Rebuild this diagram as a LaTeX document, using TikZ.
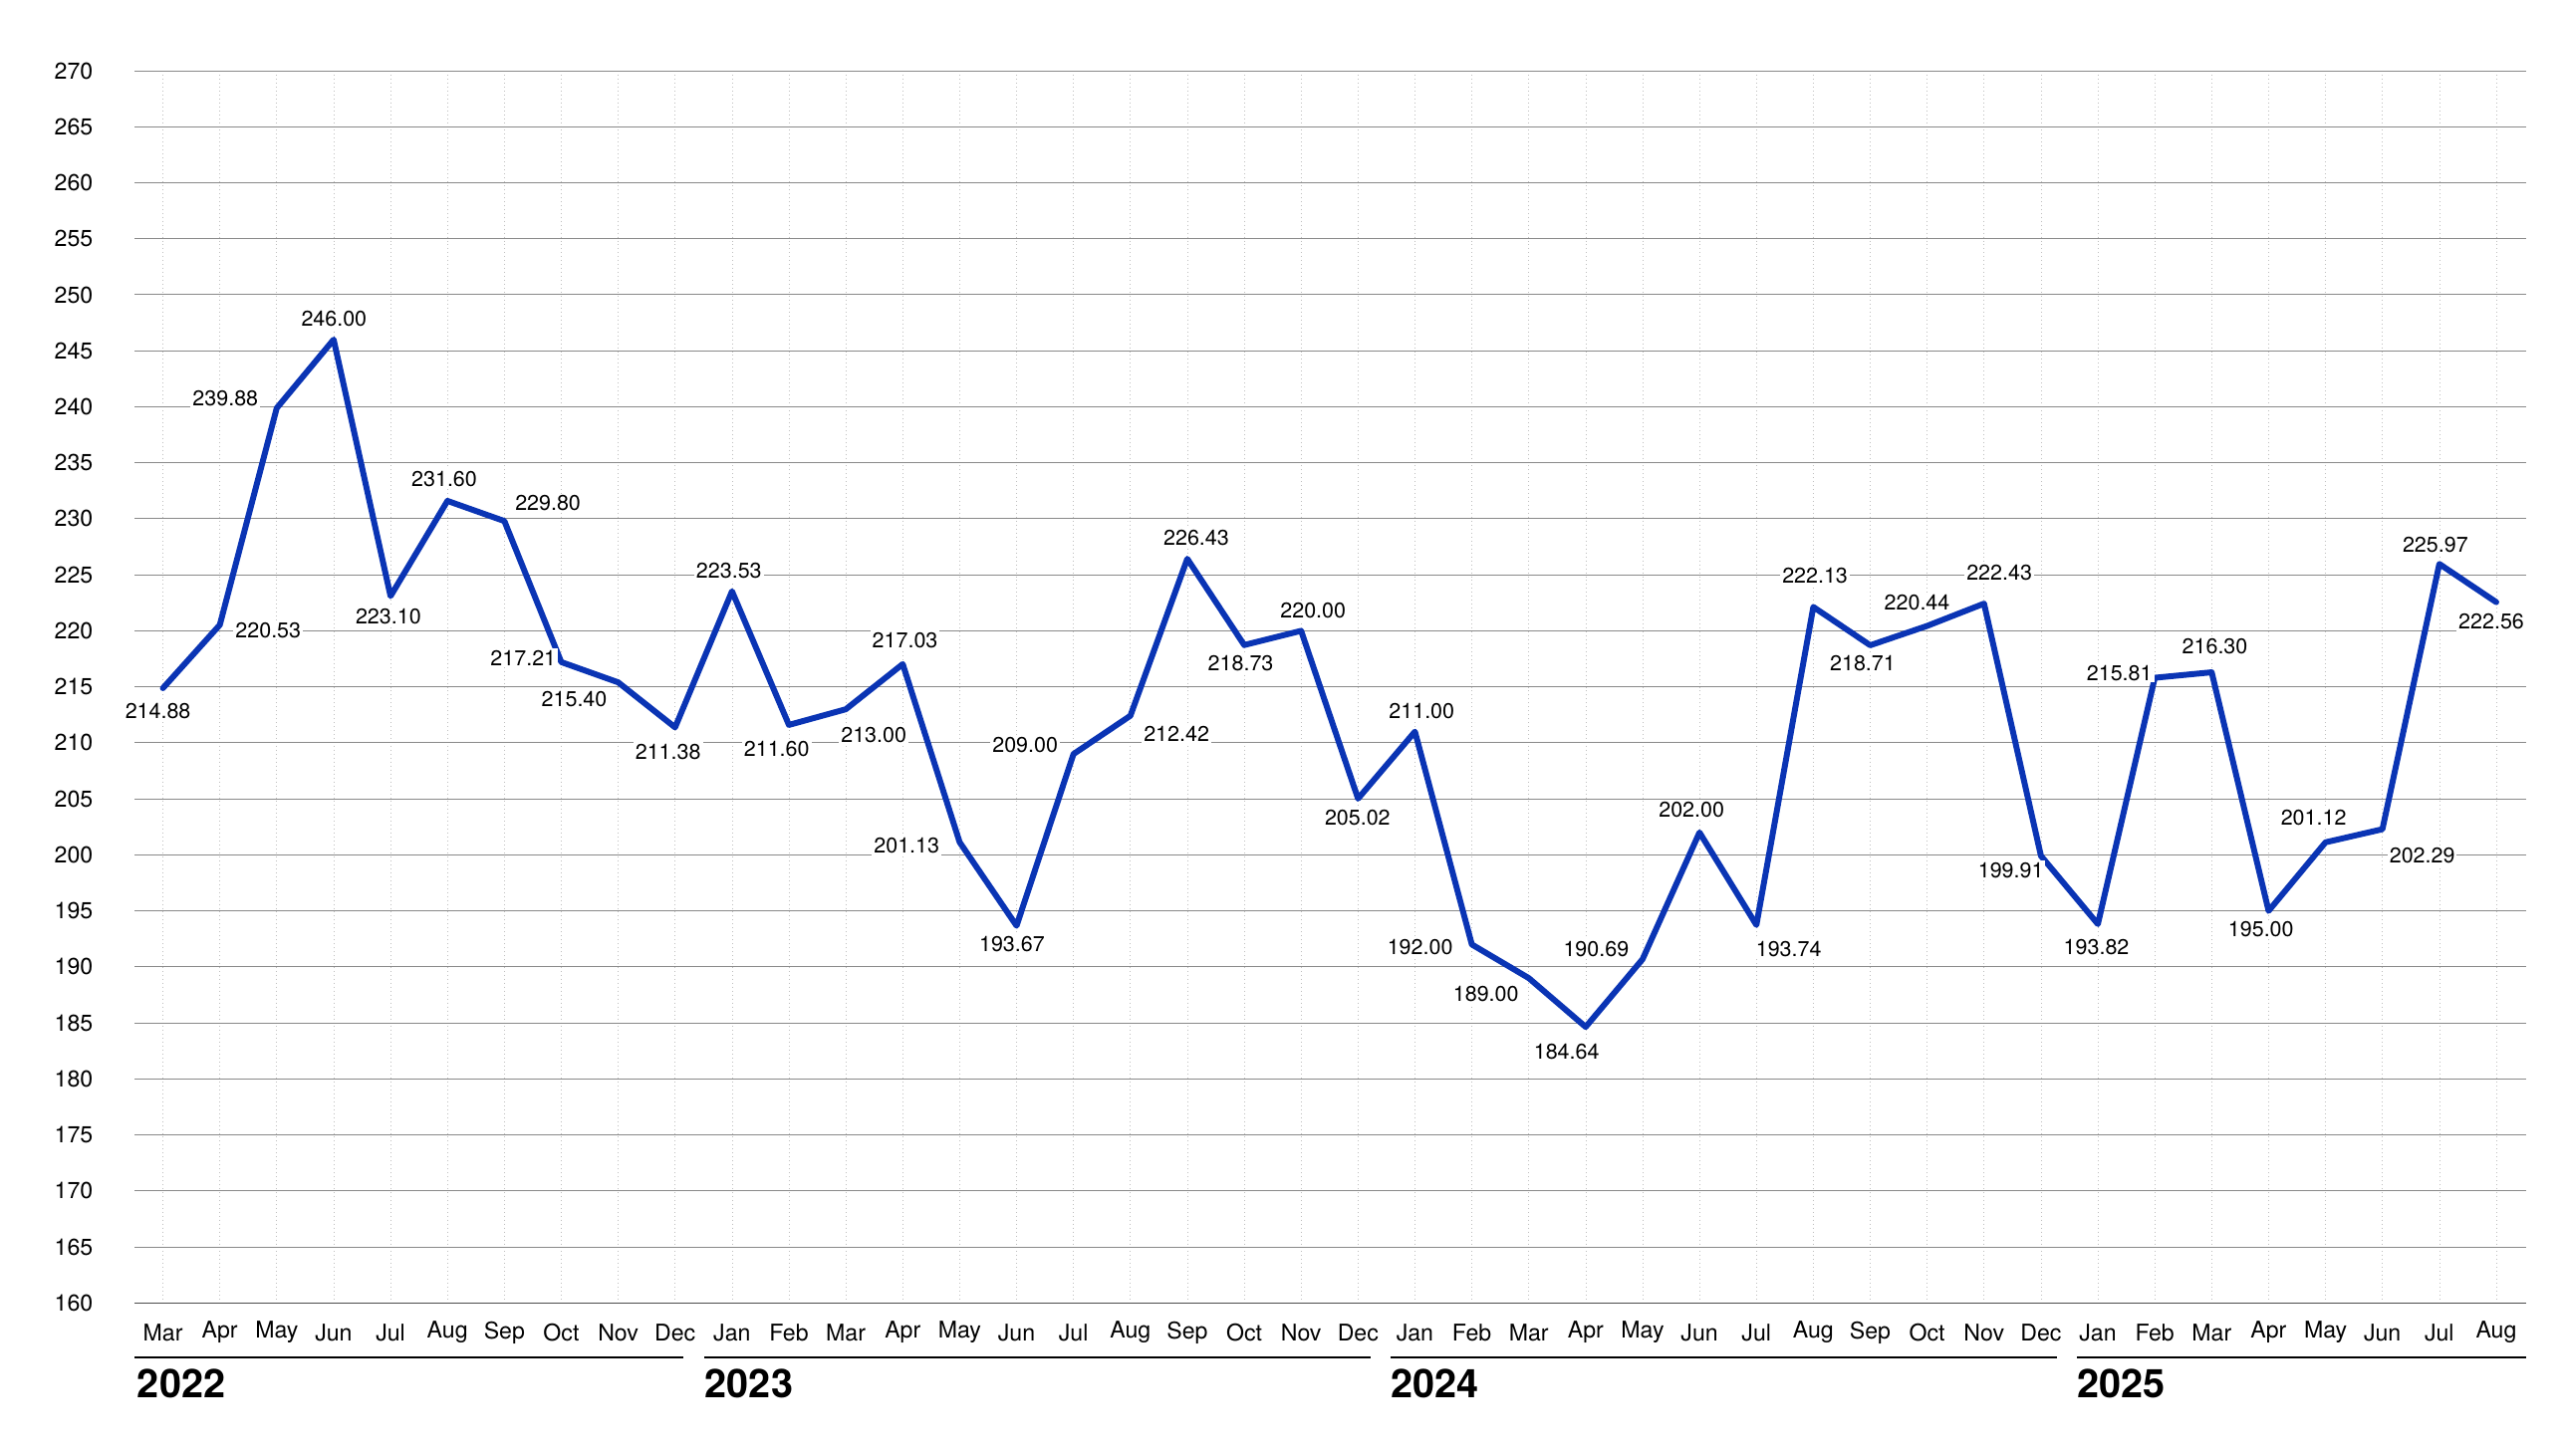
\documentclass[tikz,border=0pt]{standalone}
\usepackage{fontspec}
\setmainfont{TeX Gyre Heros}
\definecolor{lineblue}{HTML}{0A34B4}
\definecolor{gridc}{HTML}{8A8A8A}
\begin{document}
\begin{tikzpicture}[x=1pt,y=-1pt,
  val/.style={font=\fontsize{13}{13}\selectfont,fill=white,inner sep=1.2pt},
  ytick/.style={font=\fontsize{14}{14}\selectfont,anchor=east},
  mtick/.style={font=\fontsize{14}{14}\selectfont},
  yearlab/.style={font=\bfseries\fontsize{24}{24}\selectfont,anchor=west}]
\useasboundingbox (0,0) rectangle (1560,885);
% vertical dotted grid
\foreach \i in {0,...,41}{
  \draw[gray!50,dotted] ({99+\i*34.585},43) -- ({99+\i*34.585},792);
}
% horizontal grid
\foreach \k in {0,...,21}{
  \pgfmathtruncatemacro{\v}{270-5*\k}
  \draw[gridc,line width=0.6pt] (82,{43+\k*34.045}) -- (1535,{43+\k*34.045});
  \node[ytick] (yl\k) at (60,{43+\k*34.045}) {\v};
}
\draw[black!70,line width=1pt] (82,792) -- (1535,792);
\node[ytick] (yl22) at (60,792) {160};
% months
\foreach \m [count=\i from 0] in {Mar,Apr,May,Jun,Jul,Aug,Sep,Oct,Nov,Dec,Jan,Feb,Mar,Apr,May,Jun,Jul,Aug,Sep,Oct,Nov,Dec,Jan,Feb,Mar,Apr,May,Jun,Jul,Aug,Sep,Oct,Nov,Dec,Jan,Feb,Mar,Apr,May,Jun,Jul,Aug}{
  \node[mtick] (m\i) at ({99+\i*34.585},810) {\m};
}
\draw[black,line width=0.8pt] (82,825) -- (415,825);
\draw[black,line width=0.8pt] (428,825) -- (833,825);
\draw[black,line width=0.8pt] (845,825) -- (1250,825);
\draw[black,line width=0.8pt] (1262,825) -- (1535,825);
\node[yearlab] (y22) at (80,841) {2022};
\node[yearlab] (y23) at (425,841) {2023};
\node[yearlab] (y24) at (842,841) {2024};
\node[yearlab] (y25) at (1259,841) {2025};
% data
\foreach \v [count=\i from 0] in {214.88,220.53,239.88,246.00,223.10,231.60,229.80,217.21,215.40,211.38,223.53,211.60,213.00,217.03,201.13,193.67,209.00,212.42,226.43,218.73,220.00,205.02,211.00,192.00,189.00,184.64,190.69,202.00,193.74,222.13,218.71,220.44,222.43,199.91,193.82,215.81,216.30,195.00,201.12,202.29,225.97,222.56}{
  \coordinate (p\i) at ({99+\i*34.585},{43+(270-\v)*6.809});
}
\draw[lineblue,line width=3.6pt,line join=round,line cap=round]
  (p0) \foreach \i in {1,...,41}{ -- (p\i) };
% labels
\foreach \v/\lx/\ly [count=\i from 0] in {214.88/96/432,220.53/163/383,239.88/137/242,246.00/203/194,223.10/236/375,231.60/270/291,229.80/333/306,217.21/318/400,215.40/349/425,211.38/406/457,223.53/443/347,211.60/472/455,213.00/531/447,217.03/550/389,201.13/551/514,193.67/615/574,209.00/623/453,212.42/715/446,226.43/727/327,218.73/754/403,220.00/798/371,205.02/825/497,211.00/864/432,192.00/863/576,189.00/903/604,184.64/952/639,190.69/970/577,202.00/1028/492,193.74/1087/577,222.13/1103/350,218.71/1132/403,220.44/1165/366,222.43/1215/348,199.91/1222/529,193.82/1274/576,215.81/1288/409,216.30/1346/393,195.00/1374/565,201.12/1406/497,202.29/1472/520,225.97/1480/331,222.56/1514/378}{
  \node[val] (l\i) at (\lx,\ly) {\v};
}
\end{tikzpicture}
\end{document}
